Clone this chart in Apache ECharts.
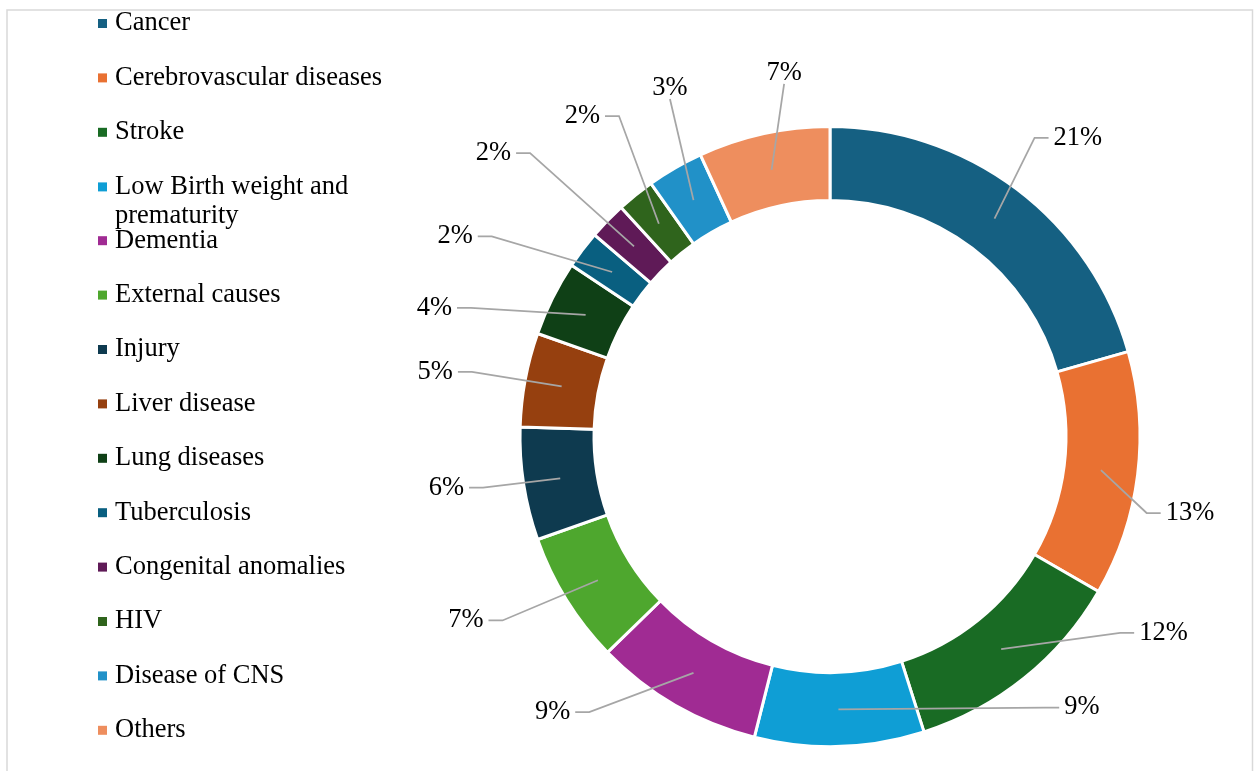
<!DOCTYPE html>
<html>
<head>
<meta charset="utf-8">
<script src="https://cdn.jsdelivr.net/npm/echarts@6/dist/echarts.min.js"></script>
<style>
  html, body { margin: 0; padding: 0; background: #ffffff; }
  #chart { width: 1256px; height: 771px; }
</style>
</head>
<body>
<div id="chart"></div>
<script>
// Causes of death, share of total (%)
const causes = [
  'Cancer',
  'Cerebrovascular diseases',
  'Stroke',
  'Low Birth weight and\nprematurity',
  'Dementia',
  'External causes',
  'Injury',
  'Liver disease',
  'Lung diseases',
  'Tuberculosis',
  'Congenital anomalies',
  'HIV',
  'Disease of CNS',
  'Others'
];
const shares = [21, 13, 12, 9, 9, 7, 6, 5, 4, 2, 2, 2, 3, 7];
const palette = [
  '#156082', '#E97132', '#196B24', '#0F9ED5', '#A02B93', '#4EA72E',
  '#0E3A4F', '#96400F', '#0F4016', '#095F80', '#5F1A57', '#2F641C',
  '#2191C8', '#EE8E5E'
];

// Ring geometry
const CX = 830, CY = 436.5, R_IN = 236, R_OUT = 310;
const R_MID = (R_IN + R_OUT) / 2;

// Where each value label sits around the ring: [angle clockwise from 12 o'clock (deg), distance from centre]
const labelSpots = [
  [39.7, 388], [102, 368], [120.5, 387], [137.1, 370], [225.2, 391],
  [243.2, 408], [262.4, 387], [279.3, 400], [288, 416], [298.1, 425],
  [310.1, 440], [322.3, 405], [335.3, 383], [352.8, 366]
];

const FONT = '"Liberation Serif", "Times New Roman", serif';
const FS = 26.5;

const chart = echarts.init(document.getElementById('chart'), null, { renderer: 'canvas' });

const legendText = {
  fontFamily: FONT, fontSize: FS, color: '#000000', lineHeight: 26,
  padding: [0, 0, 0, 3]
};
function legendBlock(names, top, extra) {
  return Object.assign({
    orient: 'vertical', left: 98, top: top, padding: 0,
    itemWidth: 9, itemHeight: 9, itemGap: 27.4, icon: 'rect',
    itemStyle: { borderWidth: 0 },
    selectedMode: false,
    textStyle: legendText,
    data: names
  }, extra || {});
}

// Leader line: from the middle of the ring to the side of the label (with a short
// horizontal tail), or straight to its bottom/top edge when the label sits above/below.
function placeLabel(p) {
  const spot = labelSpots[p.dataIndex];
  const a = spot[0] * Math.PI / 180;
  const lx = CX + spot[1] * Math.sin(a);
  const ly = CY - spot[1] * Math.cos(a);
  const p0 = p.labelLinePoints[0];
  const k = R_MID / Math.hypot(p0[0] - CX, p0[1] - CY);
  const sx = CX + (p0[0] - CX) * k;
  const sy = CY + (p0[1] - CY) * k;
  const w = p.labelRect.width, h = p.labelRect.height;
  const dx = lx - sx, dy = ly - sy;
  let pts;
  if (Math.abs(dx) < Math.abs(dy) * 0.577) {
    const ey = ly + (dy < 0 ? h / 2 - 3 : -h / 2 + 3);
    pts = [[sx, sy], [(sx + lx) / 2, (sy + ey) / 2], [lx, ey]];
  } else {
    const side = dx > 0 ? 1 : -1;
    const ex = lx - side * (w / 2 + 5);
    const bx = ex - side * 14;
    pts = [[sx, sy], [bx, ly], [ex, ly]];
  }
  return { x: lx, y: ly, align: 'center', verticalAlign: 'middle', labelLinePoints: pts };
}

chart.setOption({
  animation: false,
  backgroundColor: '#ffffff',
  graphic: [{
    type: 'rect', silent: true, z: -10,
    shape: { x: 7, y: 10, width: 1245.5, height: 800 },
    style: { fill: 'none', stroke: '#D9D9D9', lineWidth: 1.5 }
  }],
  legend: [
    legendBlock(causes.slice(0, 3), 10),
    legendBlock([causes[3]], 143.4, {
      // leading blank line keeps the first text line level with the marker
      formatter: name => '\n' + name,
      textStyle: Object.assign({}, legendText, { lineHeight: 29 })
    }),
    legendBlock(causes.slice(4), 227.2)
  ],
  series: [
    {
      name: 'ring',
      type: 'pie',
      center: [CX, CY],
      radius: [R_IN, R_OUT],
      startAngle: 90,
      clockwise: true,
      silent: true,
      label: { show: false },
      labelLine: { show: false },
      itemStyle: { borderColor: '#ffffff', borderWidth: 3 },
      data: causes.map((name, i) => ({ name: name, value: shares[i], itemStyle: { color: palette[i] } }))
    },
    {
      name: 'labels',
      type: 'pie',
      center: [CX, CY],
      radius: [0, R_MID],
      startAngle: 90,
      clockwise: true,
      silent: true,
      z: 5,
      avoidLabelOverlap: false,
      itemStyle: { color: 'rgba(0,0,0,0)', borderWidth: 0 },
      label: {
        show: true,
        position: 'outside',
        fontFamily: FONT, fontSize: FS, color: '#000000',
        formatter: p => p.value + '%'
      },
      labelLine: {
        show: true, length: 40, length2: 10,
        lineStyle: { color: '#A6A6A6', width: 1.75 }
      },
      labelLayout: placeLabel,
      emphasis: { disabled: true },
      data: causes.map((name, i) => ({ name: name, value: shares[i] }))
    }
  ]
});
</script>
</body>
</html>
